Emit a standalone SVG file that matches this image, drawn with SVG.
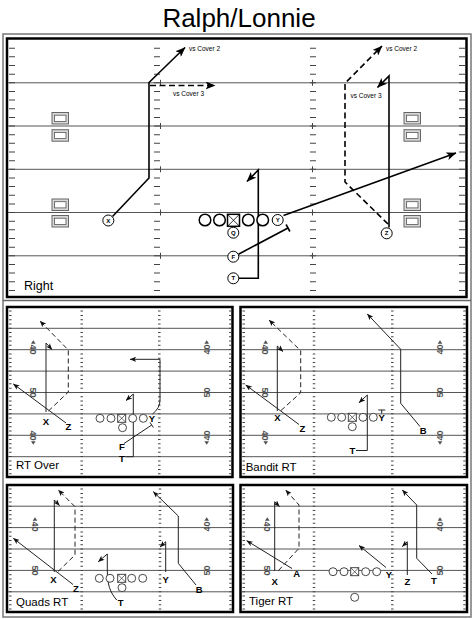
<svg xmlns="http://www.w3.org/2000/svg" width="474" height="619" viewBox="0 0 474 619">
<defs>
<style>
text{font-family:"Liberation Sans",Arial,sans-serif;fill:#000}
.ttl{font-size:26px}
.lbl{font-size:12.5px}
.plbl{font-size:11.5px}
.cov{font-size:6.5px}
.pl{font-size:6px;font-weight:bold;text-anchor:middle}
.sl{font-size:9.5px;font-weight:bold;text-anchor:middle}
.yd{font-size:9px;font-weight:bold;fill:#505050;text-anchor:middle}
.fl{stroke:#555;stroke-width:1;fill:none}
.tk{stroke:#444;stroke-width:6;stroke-dasharray:1 7.65;fill:none}
.stk{stroke:#444;stroke-width:2.5;stroke-dasharray:1 3.28;fill:none}
.cr{stroke:#444;stroke-width:1}
.rt{stroke:#000;stroke-width:1.6;fill:none;stroke-linejoin:miter}
.rtd{stroke:#000;stroke-width:1.6;fill:none;stroke-dasharray:6 3.5}
.srt{stroke:#222;stroke-width:1;fill:none}
.srd{stroke:#222;stroke-width:1;fill:none;stroke-dasharray:5 3}
.mp{fill:#fff;stroke:#000;stroke-width:1}
.ml{fill:#fff;stroke:#000;stroke-width:1.5}
.sp{fill:#fff;stroke:#333;stroke-width:0.9}
.bxo{fill:#d8d8d8;stroke:#666;stroke-width:1}
.bxi{fill:#fff;stroke:#555;stroke-width:0.8}
.frm{fill:none;stroke:#000;stroke-width:2.5}
.ofr{fill:none;stroke:#777;stroke-width:1.5}
.tri{fill:#505050}
</style>
<marker id="ah" viewBox="0 0 10 8" markerWidth="10" markerHeight="8" refX="9.5" refY="4" orient="auto" markerUnits="userSpaceOnUse"><path d="M0,0 L10,4 L0,8 L2.5,4 z" fill="#000"/></marker>
<marker id="as" viewBox="0 0 10 8" markerWidth="6.5" markerHeight="5.2" refX="9.5" refY="4" orient="auto" markerUnits="userSpaceOnUse"><path d="M0,0 L10,4 L0,8 L2.5,4 z" fill="#111"/></marker>
</defs>
<rect width="474" height="619" fill="#fff"/>
<text class="ttl" x="239" y="26.7" text-anchor="middle">Ralph/Lonnie</text>

<!-- frames -->
<rect class="ofr" x="3" y="34" width="468" height="583"/>
<line x1="3" y1="300.5" x2="471" y2="300.5" stroke="#666" stroke-width="1.5"/>
<rect class="frm" x="7" y="38.5" width="459.5" height="258.5"/>

<!-- main field -->
<g id="main-field">
<line class="fl" x1="8" y1="82.8" x2="465" y2="82.8"/>
<line class="fl" x1="8" y1="126" x2="465" y2="126"/>
<line class="fl" x1="8" y1="169.3" x2="465" y2="169.3"/>
<line class="fl" x1="8" y1="212.5" x2="465" y2="212.5"/>
<line class="fl" x1="8" y1="255.8" x2="465" y2="255.8"/>
<line class="tk" x1="12" y1="47.7" x2="12" y2="296"/>
<line class="tk" x1="157" y1="47.7" x2="157" y2="296"/>
<line class="tk" x1="313" y1="47.7" x2="313" y2="296"/>
<line class="tk" x1="462" y1="47.7" x2="462" y2="296"/>
<path class="cr" d="M160.5,79.8v6M160.5,123v6M160.5,166.3v6M160.5,209.5v6M160.5,252.8v6M312.5,79.8v6M312.5,123v6M312.5,166.3v6M312.5,209.5v6M312.5,252.8v6"/>
<rect class="bxo" x="52" y="112.5" width="16.5" height="11.5"/><rect class="bxi" x="54.5" y="115.2" width="11.5" height="6.2"/>
<rect class="bxo" x="52" y="129.7" width="16.5" height="11.5"/><rect class="bxi" x="54.5" y="132.4" width="11.5" height="6.2"/>
<rect class="bxo" x="52" y="199" width="16.5" height="11.5"/><rect class="bxi" x="54.5" y="201.7" width="11.5" height="6.2"/>
<rect class="bxo" x="52" y="215.5" width="16.5" height="11.5"/><rect class="bxi" x="54.5" y="218.2" width="11.5" height="6.2"/>
<rect class="bxo" x="404" y="112.5" width="16.5" height="11.5"/><rect class="bxi" x="406.5" y="115.2" width="11.5" height="6.2"/>
<rect class="bxo" x="404" y="129.7" width="16.5" height="11.5"/><rect class="bxi" x="406.5" y="132.4" width="11.5" height="6.2"/>
<rect class="bxo" x="404" y="199" width="16.5" height="11.5"/><rect class="bxi" x="406.5" y="201.7" width="11.5" height="6.2"/>
<rect class="bxo" x="404" y="215.5" width="16.5" height="11.5"/><rect class="bxi" x="406.5" y="218.2" width="11.5" height="6.2"/>
<text class="lbl" x="24" y="290">Right</text>
</g>

<g id="main-connectors">
<polyline class="rt" points="112.5,216.5 149,178 149,82.5 185,47.5" marker-end="url(#ah)"/>
<polyline class="rtd" points="150,85.5 215,85.5" marker-end="url(#ah)"/>
<polyline class="rtd" points="388,224 345,182 345,83.3 382,46" marker-end="url(#ah)"/>
<polyline class="rt" points="389,227.5 389,76 377.5,87.5" marker-end="url(#ah)"/>
<polyline class="rt" points="283.5,215.5 456,153" marker-end="url(#ah)"/>
<polyline class="rt" points="238.5,254.2 288,228"/>
<line class="rt" x1="286.1" y1="224.5" x2="289.9" y2="231.5"/>
<polyline class="rt" points="239,278.3 258.3,278.3 258.3,170 247,181.5" marker-end="url(#ah)"/>
<text class="cov" x="189" y="51">vs Cover 2</text>
<text class="cov" x="173" y="95.5">vs Cover 3</text>
<text class="cov" x="386" y="51">vs Cover 2</text>
<text class="cov" x="350.5" y="98">vs Cover 3</text>
</g>

<g id="m-ol">
<circle class="ml" cx="205" cy="220" r="5.8"/>
<circle class="ml" cx="219.5" cy="220" r="5.8"/>
<circle class="ml" cx="248.3" cy="220" r="5.8"/>
<circle class="ml" cx="262.7" cy="220" r="5.8"/>
</g>
<g id="m-c"><rect class="ml" x="227.5" y="214.3" width="12" height="12"/><path d="M227.5,214.3l12,12M239.5,214.3l-12,12" stroke="#000" stroke-width="0.8"/></g>
<g id="m-x"><circle class="mp" cx="108.3" cy="220.5" r="5.5"/><text class="pl" x="108.3" y="222.6">X</text></g>
<g id="m-y"><circle class="mp" cx="277.7" cy="220" r="5.5"/><text class="pl" x="277.7" y="222.1">Y</text></g>
<g id="m-z"><circle class="mp" cx="386.7" cy="233.3" r="5.5"/><text class="pl" x="386.7" y="235.4">Z</text></g>
<g id="m-q"><circle class="mp" cx="233.3" cy="232.7" r="5.5"/><text class="pl" x="233.3" y="234.8">Q</text></g>
<g id="m-f"><circle class="mp" cx="233.3" cy="256.7" r="5.5"/><text class="pl" x="233.3" y="258.8">F</text></g>
<g id="m-t"><circle class="mp" cx="233.3" cy="278.3" r="5.5"/><text class="pl" x="233.3" y="280.4">T</text></g>

<!-- ============ Panel 1: RT Over ============ -->
<g id="p1-field">
<rect class="frm" x="7" y="307" width="225.5" height="170" stroke-width="2"/>
<path class="fl" d="M8,328.3H231.5M8,349.7H231.5M8,371.1H231.5M8,392.5H231.5M8,413.9H231.5M8,435.3H231.5M8,456.7H231.5"/>
<line class="stk" x1="10.3" y1="310.6" x2="10.3" y2="476"/>
<line class="stk" x1="81.7" y1="310.6" x2="81.7" y2="476"/>
<line class="stk" x1="159.3" y1="310.6" x2="159.3" y2="476"/>
<line class="stk" x1="230.3" y1="310.6" x2="230.3" y2="476"/>
<text class="yd" transform="translate(33.3,349.5) rotate(90)" dy="3.2">40</text>
<path class="tri" d="M31,343.8h4.6l-2.3,-3.6z"/>
<text class="yd" transform="translate(33.3,392.5) rotate(90)" dy="3.2">50</text>
<text class="yd" transform="translate(33.3,435.5) rotate(90)" dy="3.2">40</text>
<path class="tri" d="M31,441.2h4.6l-2.3,3.6z"/>
<text class="yd" transform="translate(206.7,349.5) rotate(-90)" dy="3.2">40</text>
<path class="tri" d="M204.4,343.8h4.6l-2.3,-3.6z"/>
<text class="yd" transform="translate(206.7,392.5) rotate(-90)" dy="3.2">50</text>
<text class="yd" transform="translate(206.7,435.5) rotate(-90)" dy="3.2">40</text>
<path class="tri" d="M204.4,441.2h4.6l-2.3,3.6z"/>
<text class="plbl" x="16" y="468.5">RT Over</text>
</g>
<g id="p1-connectors">
<polyline class="srt" points="46,412 46,343 52,349.5" marker-end="url(#as)"/>
<polyline class="srd" points="48.5,411 68.3,392 68.3,350 40,321" marker-end="url(#as)"/>
<polyline class="srt" points="66,423 13.3,384" marker-end="url(#as)"/>
<path class="srt" d="M152.5,414 Q160,408 160,400 L160,359.3 L130,359.3" marker-end="url(#as)"/>
<polyline class="srt" points="124,443.5 151.7,425"/>
<line class="srt" x1="150" y1="422.5" x2="153.4" y2="427.5"/>
<polyline class="srt" points="125.5,456.7 133.3,456.7 133.3,394 126,400.5" marker-end="url(#as)"/>
</g>
<g id="p1-ol">
<circle class="sp" cx="100" cy="418.3" r="4"/><circle class="sp" cx="111" cy="418.3" r="4"/>
<circle class="sp" cx="132.7" cy="418.3" r="4"/><circle class="sp" cx="143.3" cy="418.3" r="4"/>
<rect class="sp" x="117.7" y="414.3" width="8" height="8"/><path d="M117.7,414.3l8,8M125.7,414.3l-8,8" stroke="#333" stroke-width="0.7"/>
</g>
<g id="p1-q"><circle class="sp" cx="122.5" cy="427.7" r="4"/></g>
<g id="p1-x"><text class="sl" x="46" y="425">X</text></g>
<g id="p1-z"><text class="sl" x="68.3" y="430">Z</text></g>
<g id="p1-y"><text class="sl" x="152" y="422">Y</text></g>
<g id="p1-f"><text class="sl" x="122" y="450">F</text></g>
<g id="p1-t"><text class="sl" x="122" y="461.8">T</text></g>

<!-- ============ Panel 2: Bandit RT ============ -->
<g id="p2-field">
<rect class="frm" x="240.5" y="307" width="226.5" height="170" stroke-width="2"/>
<path class="fl" d="M241.5,328.3H466M241.5,349.7H466M241.5,371.1H466M241.5,392.5H466M241.5,413.9H466M241.5,435.3H466M241.5,456.7H466"/>
<line class="stk" x1="243.7" y1="310.6" x2="243.7" y2="476"/>
<line class="stk" x1="314" y1="310.6" x2="314" y2="476"/>
<line class="stk" x1="392.3" y1="310.6" x2="392.3" y2="476"/>
<line class="stk" x1="464.5" y1="310.6" x2="464.5" y2="476"/>
<text class="yd" transform="translate(265.7,349.5) rotate(90)" dy="3.2">40</text>
<path class="tri" d="M263.4,343.8h4.6l-2.3,-3.6z"/>
<text class="yd" transform="translate(265.7,392.5) rotate(90)" dy="3.2">50</text>
<text class="yd" transform="translate(265.7,435.5) rotate(90)" dy="3.2">40</text>
<path class="tri" d="M263.4,441.2h4.6l-2.3,3.6z"/>
<text class="yd" transform="translate(440,349.5) rotate(-90)" dy="3.2">40</text>
<path class="tri" d="M437.7,343.8h4.6l-2.3,-3.6z"/>
<text class="yd" transform="translate(440,392.5) rotate(-90)" dy="3.2">50</text>
<text class="yd" transform="translate(440,435.5) rotate(-90)" dy="3.2">40</text>
<path class="tri" d="M437.7,441.2h4.6l-2.3,3.6z"/>
<text class="plbl" x="245.7" y="470.7">Bandit RT</text>
</g>
<g id="p2-connectors">
<polyline class="srt" points="277.3,411 277.3,346 283,351.5" marker-end="url(#as)"/>
<polyline class="srd" points="281,410.5 300.7,392.7 300.7,350.7 269,320" marker-end="url(#as)"/>
<polyline class="srt" points="299,424.5 245.7,385" marker-end="url(#as)"/>
<polyline class="srt" points="420,426.5 400.7,403.3 400.7,349.3 367.3,314" marker-end="url(#as)"/>
<polyline class="srt" points="356,450.5 367.3,450.5 367.3,395 359,402.7" marker-end="url(#as)"/>
<path class="srt" d="M381.7,413.5V410M378.3,410H385.3"/>
</g>
<g id="p2-ol">
<circle class="sp" cx="331.3" cy="417.3" r="4"/><circle class="sp" cx="341.7" cy="417.3" r="4"/>
<circle class="sp" cx="363" cy="417.3" r="4"/><circle class="sp" cx="373.3" cy="417.3" r="4"/>
<rect class="sp" x="348.3" y="413.3" width="8" height="8"/><path d="M348.3,413.3l8,8M356.3,413.3l-8,8" stroke="#333" stroke-width="0.7"/>
</g>
<g id="p2-q"><circle class="sp" cx="352.3" cy="426.7" r="4"/></g>
<g id="p2-x"><text class="sl" x="277.3" y="421">X</text></g>
<g id="p2-z"><text class="sl" x="302.3" y="431.8">Z</text></g>
<g id="p2-y"><text class="sl" x="381.7" y="421">Y</text></g>
<g id="p2-b"><text class="sl" x="423.3" y="434.2">B</text></g>
<g id="p2-t"><text class="sl" x="352.3" y="454.2">T</text></g>

<!-- ============ Panel 3: Quads RT ============ -->
<g id="p3-field">
<rect class="frm" x="7" y="485" width="226" height="127" stroke-width="2"/>
<path class="fl" d="M8,506.2H232M8,527.6H232M8,549H232M8,570.4H232M8,591.8H232"/>
<line class="stk" x1="10.3" y1="488.6" x2="10.3" y2="611"/>
<line class="stk" x1="81.7" y1="488.6" x2="81.7" y2="611"/>
<line class="stk" x1="160" y1="488.6" x2="160" y2="611"/>
<line class="stk" x1="230.5" y1="488.6" x2="230.5" y2="611"/>
<text class="yd" transform="translate(35,526.5) rotate(90)" dy="3.2">40</text>
<path class="tri" d="M32.7,520.8h4.6l-2.3,-3.6z"/>
<text class="yd" transform="translate(35,570.4) rotate(90)" dy="3.2">50</text>
<text class="yd" transform="translate(206.7,526.5) rotate(-90)" dy="3.2">40</text>
<path class="tri" d="M204.4,520.8h4.6l-2.3,-3.6z"/>
<text class="yd" transform="translate(206.7,570.4) rotate(-90)" dy="3.2">50</text>
<text class="plbl" x="16" y="606">Quads RT</text>
</g>
<g id="p3-connectors">
<polyline class="srt" points="54.3,572 54.3,500 59.5,505.5" marker-end="url(#as)"/>
<polyline class="srd" points="58,571.5 75,555 75,506.7 58.3,490" marker-end="url(#as)"/>
<polyline class="srt" points="73,584.5 13.3,538.3" marker-end="url(#as)"/>
<path class="srt" d="M116.7,600 C110,592 107.3,585 107.3,570 L107.3,554 L98.3,561.7" marker-end="url(#as)"/>
<polyline class="srt" points="165.7,572 165.7,541.7 160,547" marker-end="url(#as)"/>
<polyline class="srt" points="196,585 178.3,563.3 178.3,516 153.3,491.7" marker-end="url(#as)"/>
</g>
<g id="p3-ol">
<circle class="sp" cx="99.3" cy="578.3" r="4"/><circle class="sp" cx="110" cy="578.3" r="4"/>
<circle class="sp" cx="131.7" cy="578.3" r="4"/><circle class="sp" cx="142.7" cy="578.3" r="4"/>
<rect class="sp" x="117.7" y="574.3" width="8" height="8"/><path d="M117.7,574.3l8,8M125.7,574.3l-8,8" stroke="#333" stroke-width="0.7"/>
</g>
<g id="p3-q"><circle class="sp" cx="122" cy="587.7" r="4"/></g>
<g id="p3-x"><text class="sl" x="53.3" y="583">X</text></g>
<g id="p3-z"><text class="sl" x="76" y="591.8">Z</text></g>
<g id="p3-y"><text class="sl" x="165.7" y="582.8">Y</text></g>
<g id="p3-b"><text class="sl" x="199.3" y="592.8">B</text></g>
<g id="p3-t"><text class="sl" x="120.7" y="606.2">T</text></g>

<!-- ============ Panel 4: Tiger RT ============ -->
<g id="p4-field">
<rect class="frm" x="240.5" y="485" width="226.5" height="127" stroke-width="2"/>
<path class="fl" d="M241.5,506.2H466M241.5,527.6H466M241.5,549H466M241.5,570.4H466M241.5,591.8H466"/>
<line class="stk" x1="243.7" y1="488.6" x2="243.7" y2="611"/>
<line class="stk" x1="314" y1="488.6" x2="314" y2="611"/>
<line class="stk" x1="392.3" y1="488.6" x2="392.3" y2="611"/>
<line class="stk" x1="464.5" y1="488.6" x2="464.5" y2="611"/>
<text class="yd" transform="translate(267.3,526.5) rotate(90)" dy="3.2">40</text>
<path class="tri" d="M265,520.8h4.6l-2.3,-3.6z"/>
<text class="yd" transform="translate(267.3,570.4) rotate(90)" dy="3.2">50</text>
<text class="yd" transform="translate(440,526.5) rotate(-90)" dy="3.2">40</text>
<path class="tri" d="M437.7,520.8h4.6l-2.3,-3.6z"/>
<text class="yd" transform="translate(440,570.4) rotate(-90)" dy="3.2">50</text>
<text class="plbl" x="249" y="605">Tiger RT</text>
</g>
<g id="p4-connectors">
<polyline class="srt" points="274.7,571 274.7,501.7 279.5,506.5" marker-end="url(#as)"/>
<polyline class="srd" points="278.5,570.5 299,548.3 299,505 285.7,490" marker-end="url(#as)"/>
<polyline class="srt" points="292,568.5 246.7,540.7" marker-end="url(#as)"/>
<polyline class="srt" points="386,567.5 359,545.5" marker-end="url(#as)"/>
<polyline class="srt" points="407.3,575 407.3,541.7 402.3,546.5" marker-end="url(#as)"/>
<polyline class="srt" points="432,574 416.7,558.3 416.7,505 402.3,490" marker-end="url(#as)"/>
</g>
<g id="p4-ol">
<circle class="sp" cx="333" cy="571.7" r="4"/><circle class="sp" cx="344" cy="571.7" r="4"/>
<circle class="sp" cx="365.7" cy="571.7" r="4"/><circle class="sp" cx="376.7" cy="571.7" r="4"/>
<rect class="sp" x="350.7" y="567.7" width="8" height="8"/><path d="M350.7,567.7l8,8M358.7,567.7l-8,8" stroke="#333" stroke-width="0.7"/>
</g>
<g id="p4-b"><circle class="sp" cx="354.7" cy="597.3" r="4"/></g>
<g id="p4-x"><text class="sl" x="274.7" y="584.5">X</text></g>
<g id="p4-a"><text class="sl" x="296.7" y="576.8">A</text></g>
<g id="p4-y"><text class="sl" x="389" y="577.5">Y</text></g>
<g id="p4-z"><text class="sl" x="407.3" y="585.2">Z</text></g>
<g id="p4-t"><text class="sl" x="434" y="583.5">T</text></g>
</svg>
